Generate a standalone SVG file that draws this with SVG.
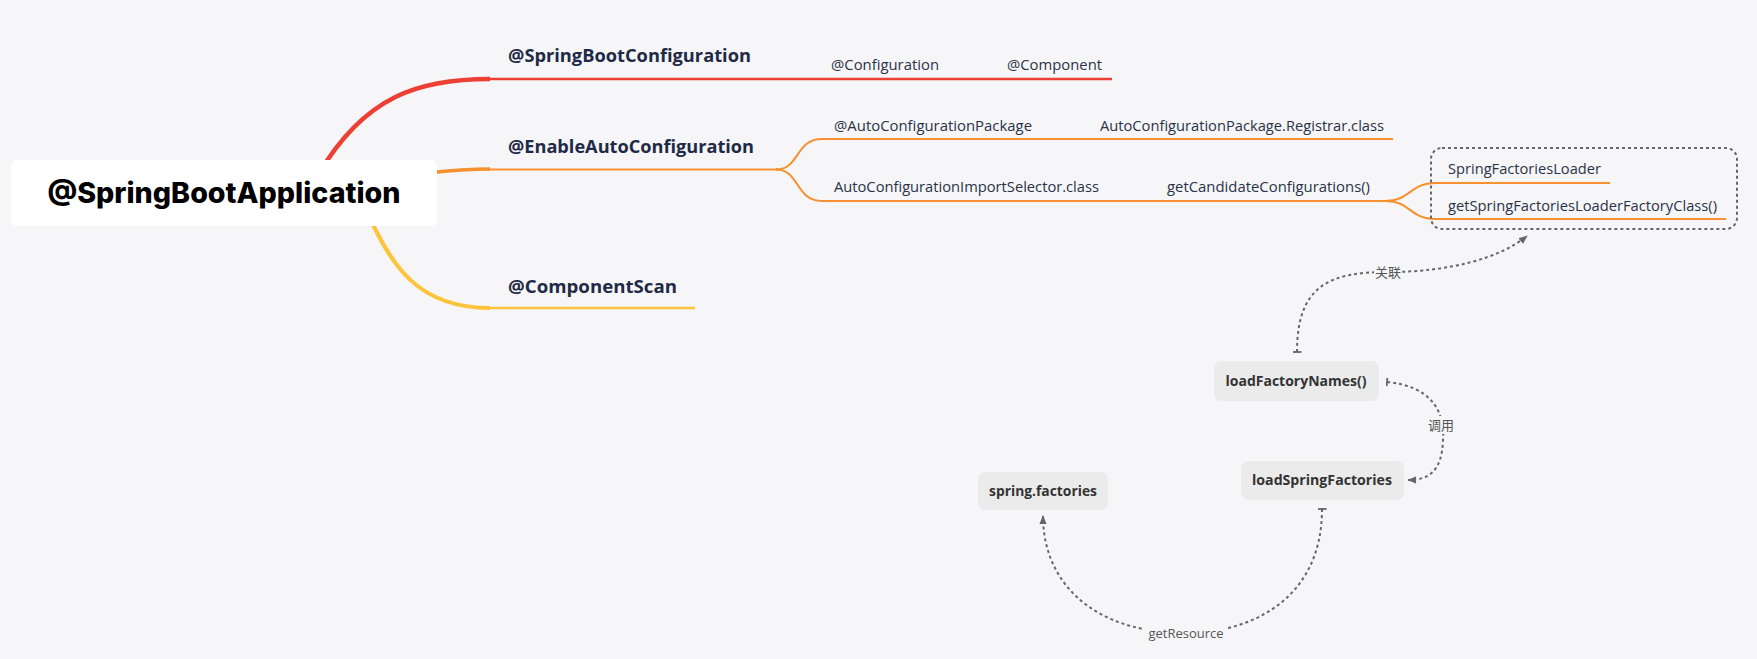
<svg xmlns="http://www.w3.org/2000/svg" width="1757" height="659" viewBox="0 0 1757 659">
<style>
.main{font-family:"Open Sans","Liberation Sans",sans-serif;font-weight:700;font-size:17px;fill:#1E2A46}
.sub{font-family:"Open Sans","Liberation Sans",sans-serif;font-weight:400;font-size:14px;fill:#2A3247}
.node{font-family:"Open Sans","Liberation Sans",sans-serif;font-weight:700;font-size:14px;fill:#333333;text-anchor:middle}
.lbl{font-family:"Open Sans","Liberation Sans","Noto Sans CJK SC",sans-serif;font-size:13px;fill:#555555;text-anchor:middle}
.box{fill:#EBEBEB}
.conn{fill:none;stroke:#666666;stroke-width:2;stroke-dasharray:3 3}
.lblbg{fill:#F6F6F8}
</style>
<defs>
<marker id="arrow" viewBox="0 0 10 10" refX="9" refY="5" markerWidth="9" markerHeight="9" markerUnits="userSpaceOnUse" orient="auto">
<path d="M0,1 L10,5 L0,9 z" fill="#666666"/>
</marker>
<marker id="tee" viewBox="0 0 10 10" refX="1" refY="5" markerWidth="9" markerHeight="9" markerUnits="userSpaceOnUse" orient="auto">
<path d="M1,0 L1,10" stroke="#666666" stroke-width="2"/>
</marker>
</defs>
<rect width="1757" height="659" fill="#F6F6F8"/>

<g id="branches">
<path d="M318,175 C365,95 420,79 490,79" fill="none" stroke="#EE3F35" stroke-width="4.5"/>
<path d="M488,79 L1112,79" fill="none" stroke="#EE3F35" stroke-width="2.5"/>
<path d="M400,176 C440,172 455,169 490,169" fill="none" stroke="#F7902E" stroke-width="3.5"/>
<path d="M488,169.5 L778,169.5" fill="none" stroke="#F7902E" stroke-width="2"/>
<path d="M776,169.5 C800,169.5 795,139 822,139 L1393,139" fill="none" stroke="#F7902E" stroke-width="2"/>
<path d="M776,169.5 C800,169.5 795,201 822,201 L1388,201" fill="none" stroke="#F7902E" stroke-width="2"/>
<path d="M1386,201 C1410,201 1410,183 1435,183 L1610,183" fill="none" stroke="#F7902E" stroke-width="2"/>
<path d="M1386,201 C1410,201 1410,219 1435,219 L1726,219" fill="none" stroke="#F7902E" stroke-width="2"/>
<path d="M360,195 C390,270 420,308 490,308" fill="none" stroke="#FDC43B" stroke-width="4"/>
<path d="M488,308 L695,308" fill="none" stroke="#FDC43B" stroke-width="2.5"/>
</g>

<g id="root">
<rect x="11" y="160" width="426" height="66" rx="6" fill="#FFFFFF"/>
<text x="224" y="203" text-anchor="middle" font-family="Inter,'Open Sans','Liberation Sans',sans-serif" font-weight="800" font-size="28" fill="#000000" textLength="353" lengthAdjust="spacingAndGlyphs">@SpringBootApplication</text>
</g>

<g id="topic-springbootconfiguration">
<text class="main" x="508" y="62" textLength="243" lengthAdjust="spacingAndGlyphs">@SpringBootConfiguration</text>
</g>
<g id="topic-configuration"><text class="sub" x="831" y="70" textLength="108" lengthAdjust="spacingAndGlyphs">@Configuration</text></g>
<g id="topic-component"><text class="sub" x="1007" y="70" textLength="95" lengthAdjust="spacingAndGlyphs">@Component</text></g>

<g id="topic-enableautoconfiguration">
<text class="main" x="508" y="153" textLength="246" lengthAdjust="spacingAndGlyphs">@EnableAutoConfiguration</text>
</g>
<g id="topic-autoconfigurationpackage"><text class="sub" x="834" y="131" textLength="198" lengthAdjust="spacingAndGlyphs">@AutoConfigurationPackage</text></g>
<g id="topic-registrar"><text class="sub" x="1100" y="131" textLength="284" lengthAdjust="spacingAndGlyphs">AutoConfigurationPackage.Registrar.class</text></g>
<g id="topic-importselector"><text class="sub" x="834" y="192" textLength="265" lengthAdjust="spacingAndGlyphs">AutoConfigurationImportSelector.class</text></g>
<g id="topic-getcandidate"><text class="sub" x="1167" y="192" textLength="203" lengthAdjust="spacingAndGlyphs">getCandidateConfigurations()</text></g>
<g id="topic-springfactoriesloader"><text class="sub" x="1448" y="174" textLength="153" lengthAdjust="spacingAndGlyphs">SpringFactoriesLoader</text></g>
<g id="topic-getfactoryclass"><text class="sub" x="1448" y="211" textLength="269" lengthAdjust="spacingAndGlyphs">getSpringFactoriesLoaderFactoryClass()</text></g>

<g id="topic-componentscan">
<text class="main" x="508" y="293" textLength="169" lengthAdjust="spacingAndGlyphs">@ComponentScan</text>
</g>

<g id="boundary">
<rect x="1431" y="148" width="306" height="81" rx="11" fill="none" stroke="#666666" stroke-width="2" stroke-dasharray="3 3"/>
</g>

<g id="node-loadfactorynames">
<rect class="box" x="1214" y="361" width="165" height="40" rx="7"/>
<text class="node" x="1296" y="386" textLength="141" lengthAdjust="spacingAndGlyphs">loadFactoryNames()</text>
</g>
<g id="node-loadspringfactories">
<rect class="box" x="1241" y="461" width="163" height="39" rx="7"/>
<text class="node" x="1322" y="485" textLength="140" lengthAdjust="spacingAndGlyphs">loadSpringFactories</text>
</g>
<g id="node-springfactories">
<rect class="box" x="978" y="472" width="130" height="38" rx="7"/>
<text class="node" x="1043" y="496" textLength="108" lengthAdjust="spacingAndGlyphs">spring.factories</text>
</g>

<g id="connectors">
<path class="conn" d="M1297,352 C1297,285 1330,272 1388,272 C1450,272 1500,258 1527,236" marker-start="url(#tee)" marker-end="url(#arrow)"/>
<rect class="lblbg" x="1374" y="263" width="28" height="18"/>
<text class="lbl" x="1388" y="277">关联</text>
<path class="conn" d="M1387,382 C1430,386 1445,410 1443,440 C1442,470 1430,480 1408,480" marker-start="url(#tee)" marker-end="url(#arrow)"/>
<rect class="lblbg" x="1427" y="416" width="28" height="18"/>
<text class="lbl" x="1441" y="430">调用</text>
<path class="conn" d="M1322,509 C1322,600 1250,633 1186,633 C1090,633 1043,580 1043,516" marker-start="url(#tee)" marker-end="url(#arrow)"/>
<rect class="lblbg" x="1144" y="624" width="84" height="18"/>
<text class="lbl" x="1186" y="638">getResource</text>
</g>
</svg>
